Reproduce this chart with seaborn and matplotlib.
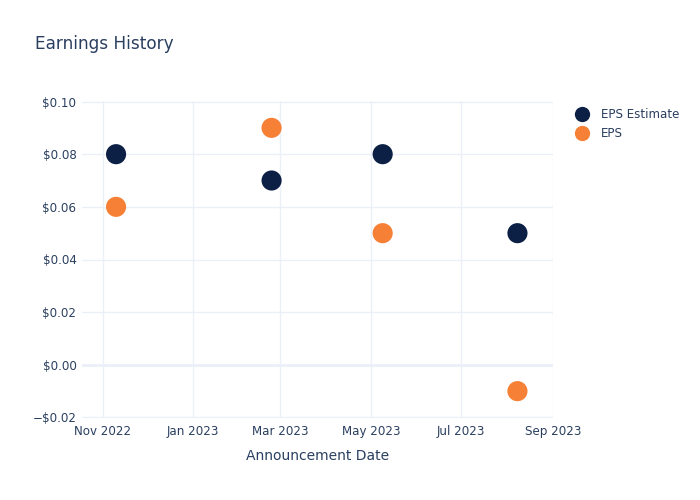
import matplotlib
matplotlib.use("Agg")
import matplotlib.pyplot as plt
import matplotlib.dates as mdates
from matplotlib.ticker import FuncFormatter
from matplotlib.lines import Line2D
import seaborn as sns
import pandas as pd

dates = ["2022-11-10", "2023-02-23", "2023-05-09", "2023-08-08"]
eps_estimate = [0.08, 0.07, 0.08, 0.05]
eps_actual = [0.06, 0.09, 0.05, -0.01]
series_names = ["EPS Estimate", "EPS"]
colors = ["#0c1f44", "#f68035"]

df = pd.DataFrame({
    "date": pd.to_datetime(dates * 2),
    "value": eps_estimate + eps_actual,
    "series": [series_names[0]] * len(dates) + [series_names[1]] * len(dates),
})

sns.set_style("white")
plt.rcParams["font.family"] = ["DejaVu Sans"]
text_color = "#2a3f5f"
grid_color = "#ebf0f8"

fig = plt.figure(figsize=(7, 5), dpi=100)
ax = fig.add_axes([82 / 700, 1 - 418 / 500, (553 - 82) / 700, (418 - 101) / 500])

sns.scatterplot(data=df, x="date", y="value", hue="series", hue_order=series_names,
                palette=colors, s=210, linewidth=0, ax=ax, legend=False, zorder=3)

ax.set_xlim(pd.Timestamp("2022-10-18"), pd.Timestamp("2023-09-01"))
ax.set_ylim(-0.0202, 0.1002)
ax.xaxis.set_major_locator(mdates.MonthLocator(bymonth=[1, 3, 5, 7, 9, 11]))
ax.xaxis.set_major_formatter(mdates.DateFormatter("%b %Y"))
ax.set_yticks([-0.02, 0, 0.02, 0.04, 0.06, 0.08, 0.10])

def fmt(v, pos):
    if v < -1e-9:
        return "\u2212${:.2f}".format(abs(v))
    return "${:.2f}".format(abs(v))
ax.yaxis.set_major_formatter(FuncFormatter(fmt))

for s in ax.spines.values():
    s.set_visible(False)
ax.grid(True, color=grid_color, linewidth=1)
ax.axhline(0, color=grid_color, linewidth=2, zorder=1)
ax.set_axisbelow(True)
ax.tick_params(axis="both", length=0, labelsize=8.6, colors=text_color)
ax.tick_params(axis="y", pad=4)
ax.tick_params(axis="x", pad=5)

ax.set_xlabel("Announcement Date", fontsize=10, color=text_color, labelpad=8)
ax.set_ylabel("")
fig.text(35 / 700, 1 - 44 / 500, "Earnings History", fontsize=12.2, color=text_color,
         va="center", ha="left")

handles = [Line2D([], [], marker="o", linestyle="", markersize=11, color=c, markeredgewidth=0)
           for c in colors]
fig.legend(handles, series_names, loc="upper left", bbox_to_anchor=(570 / 700, 1 - 103 / 500),
           frameon=False, fontsize=8.6, labelcolor=text_color, handletextpad=1.0,
           labelspacing=0.5, borderaxespad=0, handlelength=1.2)

fig.savefig("out.png", dpi=100)
